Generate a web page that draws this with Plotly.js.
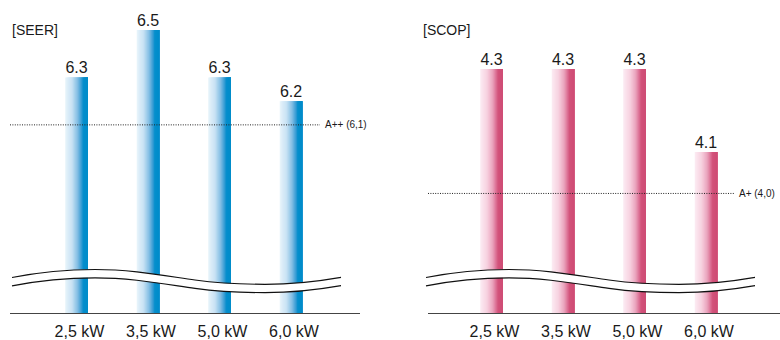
<!DOCTYPE html>
<html>
<head>
<meta charset="utf-8">
<script src="https://cdn.plot.ly/plotly-3.0.1.min.js"></script>
<style>html,body{margin:0;padding:0;background:#fff;}#chart{width:780px;height:340px;}</style>
</head>
<body>
<div id="chart"></div>
<script>
// ---- data ----
var categories = ['2,5 kW', '3,5 kW', '5,0 kW', '6,0 kW'];
var seerValues = [6.3, 6.5, 6.3, 6.2];
var scopValues = [4.3, 4.3, 4.3, 4.1];
var seerRef = 6.1;
var scopRef = 4.0;
var seerRefLabel = 'A++ (6,1)';
var scopRefLabel = 'A+ (4,0)';
var seerTitle = '[SEER]';
var scopTitle = '[SCOP]';
var valueLabelsSeer = ['6.3', '6.5', '6.3', '6.2'];
var valueLabelsScop = ['4.3', '4.3', '4.3', '4.1'];

// ---- styling ----
var W = 780, H = 340;
var FONT = '"Liberation Sans", Arial, Helvetica, sans-serif';
var TXT = '#1a1a1a';
var positions = categories.map(function (_, i) { return i; });
var barW = 0.315;
var N = 22;
var blueStops = [[0, [232, 244, 251]], [0.3, [200, 226, 244]], [0.55, [130, 190, 228]], [0.74, [45, 152, 210]], [0.8, [5, 142, 204]], [1, [0, 140, 202]]];
var pinkStops = [[0, [252, 236, 243]], [0.3, [247, 210, 224]], [0.55, [234, 164, 189]], [0.74, [216, 100, 138]], [0.8, [210, 82, 122]], [1, [207, 76, 116]]];

function interp(stops, t) {
  for (var i = 0; i < stops.length - 1; i++) {
    var a = stops[i], b = stops[i + 1];
    if (t <= b[0]) {
      var f = (t - a[0]) / (b[0] - a[0]);
      var c = a[1].map(function (v, k) { return Math.round(v + (b[1][k] - v) * f); });
      return 'rgb(' + c.join(',') + ')';
    }
  }
  var l = stops[stops.length - 1][1];
  return 'rgb(' + l.join(',') + ')';
}

var traces = [];
function addBars(values, xa, ya, stops) {
  for (var k = 0; k < N; k++) {
    var t = (k + 0.5) / N;
    var off = -barW / 2 + k * barW / N;
    traces.push({
      type: 'bar', x: positions, y: values, xaxis: xa, yaxis: ya,
      offset: off, width: barW / 2 - off,
      marker: { color: interp(stops, t), line: { width: 0 } },
      hoverinfo: 'skip', showlegend: false
    });
  }
}
addBars(seerValues, 'x', 'y', blueStops);
addBars(scopValues, 'x2', 'y2', pinkStops);

traces.push({ type: 'scatter', mode: 'text', x: positions, y: seerValues, text: valueLabelsSeer, textposition: 'top center', textfont: { family: FONT, size: 16, color: TXT }, xaxis: 'x', yaxis: 'y', cliponaxis: false, hoverinfo: 'skip', showlegend: false });
traces.push({ type: 'scatter', mode: 'text', x: positions, y: scopValues, text: valueLabelsScop, textposition: 'top center', textfont: { family: FONT, size: 16, color: TXT }, xaxis: 'x2', yaxis: 'y2', cliponaxis: false, hoverinfo: 'skip', showlegend: false });

// pixel helpers for decorations (paper coords, margins are 0)
function px(x) { return x / W; }
function py(y) { return 1 - y / H; }

// wave (axis-break decoration): cubic segments in pixels, relative to start x
var waveSegs = [[0, 277.5], [28, 272, 53, 269.5, 83, 269.5], [118, 269.5, 148, 275, 183, 280], [208, 283.5, 228, 284.3, 253, 284.3], [283, 284.3, 308, 281, 329, 277.3]];
var waveGap = 8.3;
function wavePts(x0, dy) {
  return waveSegs.map(function (s) { return s.map(function (v, i) { return i % 2 === 0 ? x0 + v : v + dy; }); });
}
function pathOf(pts) {
  var s = 'M ' + px(pts[0][0]) + ',' + py(pts[0][1]);
  for (var i = 1; i < pts.length; i++) {
    var p = pts[i];
    s += ' C ' + px(p[0]) + ',' + py(p[1]) + ' ' + px(p[2]) + ',' + py(p[3]) + ' ' + px(p[4]) + ',' + py(p[5]);
  }
  return s;
}
function reversedCont(pts) {
  var s = ' L ' + px(pts[pts.length - 1][4]) + ',' + py(pts[pts.length - 1][5]);
  for (var i = pts.length - 1; i >= 1; i--) {
    var p = pts[i];
    var prev = i - 1 === 0 ? pts[0] : [pts[i - 1][4], pts[i - 1][5]];
    s += ' C ' + px(p[2]) + ',' + py(p[3]) + ' ' + px(p[0]) + ',' + py(p[1]) + ' ' + px(prev[0]) + ',' + py(prev[1]);
  }
  return s + ' Z';
}
var shapes = [];
[12, 426].forEach(function (x0) {
  var up = wavePts(x0, 0), lo = wavePts(x0, waveGap);
  shapes.push({ type: 'path', xref: 'paper', yref: 'paper', path: pathOf(up) + reversedCont(lo), fillcolor: '#ffffff', line: { width: 0 }, layer: 'above' });
  shapes.push({ type: 'path', xref: 'paper', yref: 'paper', path: pathOf(up), line: { color: '#111', width: 1.2 }, layer: 'above' });
  shapes.push({ type: 'path', xref: 'paper', yref: 'paper', path: pathOf(lo), line: { color: '#111', width: 1.2 }, layer: 'above' });
});
// reference dotted lines
shapes.push({ type: 'line', xref: 'paper', yref: 'y', x0: px(10), x1: px(320), y0: seerRef, y1: seerRef, line: { color: '#222', width: 1, dash: '1px,1.4px' }, layer: 'above' });
shapes.push({ type: 'line', xref: 'paper', yref: 'y2', x0: px(428), x1: px(734), y0: scopRef, y1: scopRef, line: { color: '#222', width: 1, dash: '1px,1.4px' }, layer: 'above' });

var annotations = [
  { text: seerTitle, xref: 'paper', yref: 'paper', x: px(10), y: py(30), xanchor: 'left', yanchor: 'middle', showarrow: false, font: { family: FONT, size: 14, color: TXT } },
  { text: scopTitle, xref: 'paper', yref: 'paper', x: px(421), y: py(30), xanchor: 'left', yanchor: 'middle', showarrow: false, font: { family: FONT, size: 14, color: TXT } },
  { text: seerRefLabel, xref: 'paper', yref: 'y', x: px(323), y: seerRef, xanchor: 'left', yanchor: 'middle', showarrow: false, font: { family: FONT, size: 10, color: TXT } },
  { text: scopRefLabel, xref: 'paper', yref: 'y2', x: px(737), y: scopRef, xanchor: 'left', yanchor: 'middle', showarrow: false, font: { family: FONT, size: 10, color: TXT } }
];

function xaxisDef(pxLeft, pxRight, center0, step) {
  return {
    domain: [px(pxLeft), px(pxRight)],
    range: [(pxLeft - center0) / step, (pxRight - center0) / step],
    tickvals: positions, ticktext: categories,
    tickfont: { family: FONT, size: 16, color: TXT },
    ticks: '', showline: true, linecolor: '#444', linewidth: 1,
    showgrid: false, zeroline: false, fixedrange: true, automargin: false,
    ticklabelshift: 3, ticklabelstandoff: 4
  };
}
function yaxisDef(r0, r1) {
  return { domain: [27 / H, 1], range: [r0, r1], visible: false, showgrid: false, zeroline: false, fixedrange: true };
}
var layout = {
  width: W, height: H,
  margin: { l: 0, r: 0, t: 0, b: 0, pad: 0 },
  paper_bgcolor: '#ffffff', plot_bgcolor: 'rgba(0,0,0,0)',
  showlegend: false, hovermode: false, barmode: 'overlay',
  xaxis: xaxisDef(10, 360, 76.5, 71.5),
  xaxis2: xaxisDef(428, 780, 491.5, 71.5),
  yaxis: Object.assign(yaxisDef(5.306, 6.627), { anchor: 'x' }),
  yaxis2: Object.assign(yaxisDef(3.712, 4.466), { anchor: 'x2' }),
  shapes: shapes, annotations: annotations,
  font: { family: FONT, color: TXT }
};
layout.xaxis.anchor = 'y';
layout.xaxis2.anchor = 'y2';
Plotly.newPlot('chart', traces, layout, { staticPlot: true, displayModeBar: false });
</script>
</body>
</html>
